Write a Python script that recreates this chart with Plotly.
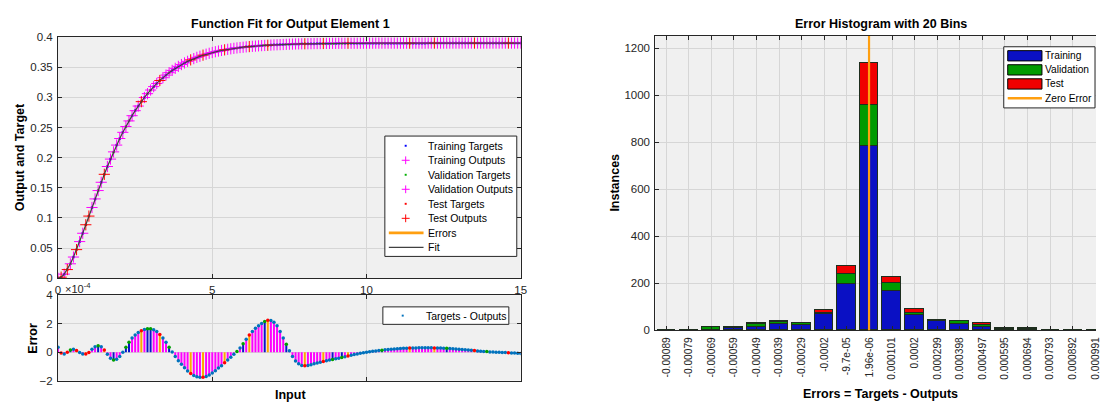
import plotly.graph_objects as go

W, H = 1102, 408
FONT = "Liberation Sans, Arial, sans-serif"
TICK = "#262626"
GRID = "#D6D6D6"
BG = "#F0F0F0"

# ---------------- data: function fit (input in units of 1e-4) ----------------
inputs = [
    0.0, 0.1, 0.2, 0.3, 0.4, 0.5, 0.6, 0.7, 0.8, 0.9,
    1.0, 1.1, 1.2, 1.3, 1.4, 1.5, 1.6, 1.7, 1.8, 1.9,
    2.0, 2.1, 2.2, 2.3, 2.4, 2.5, 2.6, 2.7, 2.8, 2.9,
    3.0, 3.1, 3.2, 3.3, 3.4, 3.5, 3.6, 3.7, 3.8, 3.9,
    4.0, 4.1, 4.2, 4.3, 4.4, 4.5, 4.6, 4.7, 4.8, 4.9,
    5.0, 5.1, 5.2, 5.3, 5.4, 5.5, 5.6, 5.7, 5.8, 5.9,
    6.0, 6.1, 6.2, 6.3, 6.4, 6.5, 6.6, 6.7, 6.8, 6.9,
    7.0, 7.1, 7.2, 7.3, 7.4, 7.5, 7.6, 7.7, 7.8, 7.9,
    8.0, 8.1, 8.2, 8.3, 8.4, 8.5, 8.6, 8.7, 8.8, 8.9,
    9.0, 9.1, 9.2, 9.3, 9.4, 9.5, 9.6, 9.7, 9.8, 9.9,
    10.0, 10.1, 10.2, 10.3, 10.4, 10.5, 10.6, 10.7, 10.8, 10.9,
    11.0, 11.1, 11.2, 11.3, 11.4, 11.5, 11.6, 11.7, 11.8, 11.9,
    12.0, 12.1, 12.2, 12.3, 12.4, 12.5, 12.6, 12.7, 12.8, 12.9,
    13.0, 13.1, 13.2, 13.3, 13.4, 13.5, 13.6, 13.7, 13.8, 13.9,
    14.0, 14.1, 14.2, 14.3, 14.4, 14.5, 14.6, 14.7, 14.8, 14.9,
    15.0,
]
targets = [
    0.0000, 0.0018, 0.0068, 0.0144, 0.0240, 0.0352, 0.0475, 0.0608, 0.0746, 0.0887,
    0.1031, 0.1174, 0.1316, 0.1455, 0.1592, 0.1724, 0.1853, 0.1976, 0.2095, 0.2208,
    0.2317, 0.2420, 0.2517, 0.2610, 0.2697, 0.2780, 0.2857, 0.2930, 0.2999, 0.3063,
    0.3123, 0.3180, 0.3232, 0.3281, 0.3327, 0.3370, 0.3410, 0.3447, 0.3481, 0.3513,
    0.3543, 0.3570, 0.3596, 0.3620, 0.3641, 0.3662, 0.3680, 0.3698, 0.3714, 0.3729,
    0.3742, 0.3755, 0.3767, 0.3777, 0.3787, 0.3796, 0.3805, 0.3813, 0.3820, 0.3826,
    0.3832, 0.3838, 0.3843, 0.3848, 0.3852, 0.3856, 0.3860, 0.3863, 0.3866, 0.3869,
    0.3872, 0.3874, 0.3876, 0.3878, 0.3880, 0.3882, 0.3883, 0.3885, 0.3886, 0.3887,
    0.3888, 0.3889, 0.3890, 0.3891, 0.3892, 0.3892, 0.3893, 0.3894, 0.3894, 0.3895,
    0.3895, 0.3896, 0.3896, 0.3896, 0.3897, 0.3897, 0.3897, 0.3897, 0.3898, 0.3898,
    0.3898, 0.3898, 0.3898, 0.3899, 0.3899, 0.3899, 0.3899, 0.3899, 0.3899, 0.3899,
    0.3899, 0.3899, 0.3899, 0.3899, 0.3899, 0.3899, 0.3899, 0.3899, 0.3899, 0.3899,
    0.3900, 0.3900, 0.3900, 0.3900, 0.3900, 0.3900, 0.3900, 0.3900, 0.3900, 0.3900,
    0.3900, 0.3900, 0.3900, 0.3900, 0.3900, 0.3900, 0.3900, 0.3900, 0.3900, 0.3900,
    0.3900, 0.3900, 0.3900, 0.3900, 0.3900, 0.3900, 0.3900, 0.3900, 0.3900, 0.3900,
    0.3900,
]
# errors (targets - outputs), in units of 1e-4
errors_e4 = [
    0.35, -0.05, -0.12, 0.00, 0.15, 0.20, 0.12, -0.02, -0.12, -0.13,
    -0.02, 0.20, 0.38, 0.45, 0.38, 0.15, -0.15, -0.42, -0.55, -0.50,
    -0.30, 0.00, 0.35, 0.70, 1.00, 1.20, 1.38, 1.50, 1.60, 1.65,
    1.64, 1.57, 1.45, 1.25, 1.00, 0.70, 0.35, 0.02, -0.30, -0.60,
    -0.85, -1.10, -1.32, -1.50, -1.63, -1.72, -1.76, -1.76, -1.70, -1.60,
    -1.47, -1.30, -1.12, -0.95, -0.75, -0.55, -0.35, -0.15, 0.05, 0.30,
    0.60, 0.90, 1.20, 1.45, 1.68, 1.85, 2.02, 2.15, 2.25, 2.22,
    2.10, 1.85, 1.45, 1.00, 0.55, 0.10, -0.30, -0.62, -0.82, -0.93,
    -0.95, -0.93, -0.88, -0.82, -0.76, -0.70, -0.65, -0.60, -0.55, -0.51,
    -0.47, -0.42, -0.37, -0.32, -0.27, -0.22, -0.17, -0.12, -0.08, -0.04,
    0.00, 0.03, 0.06, 0.09, 0.12, 0.14, 0.17, 0.19, 0.21, 0.23,
    0.24, 0.26, 0.27, 0.28, 0.29, 0.30, 0.30, 0.31, 0.31, 0.31,
    0.31, 0.31, 0.30, 0.30, 0.29, 0.28, 0.27, 0.26, 0.24, 0.23,
    0.21, 0.19, 0.17, 0.15, 0.13, 0.11, 0.09, 0.07, 0.05, 0.04,
    0.02, 0.01, 0.00, -0.01, -0.02, -0.03, -0.04, -0.05, -0.06, -0.08,
    -0.10,
]
# data division per sample: T = training, V = validation, S = test
subset = ("TSTSVTSTTS" "STTVTSTTVT" "TTVVTTTSTV" "VTTSTTVTTT" "TTTSTTTSTT"
          "TTTTSTTTVT" "VTSTTTTVST" "TTTTVTTTTT" "STTTTTSTTV" "TTVTSTTTTT"
          "TTTTTVTTTT" "TTTTSTTTTT" "TTSTTTVTTT" "TTTTTSTTTV" "TTTTTTSTTT" "T")

# ---------------- data: error histogram ----------------
hist_centers = [-8.88275e-4, -7.8936e-4, -6.90445e-4, -5.9153e-4, -4.92615e-4,
                -3.937e-4, -2.94785e-4, -1.9587e-4, -9.6955e-5, 1.96e-6,
                1.00875e-4, 1.9979e-4, 2.98705e-4, 3.9762e-4, 4.96535e-4,
                5.9545e-4, 6.94365e-4, 7.9328e-4, 8.92195e-4, 9.9111e-4]
hist_labels = ["-0.00089", "-0.00079", "-0.00069", "-0.00059", "-0.00049",
               "-0.00039", "-0.00029", "-0.0002", "-9.7e-05", "1.96e-06",
               "0.000101", "0.0002", "0.000299", "0.000398", "0.000497",
               "0.000595", "0.000694", "0.000793", "0.000892", "0.000991"]
hist_train = [1, 1, 2, 10, 15, 24, 20, 68, 198, 783, 165, 65, 40, 24, 15, 3, 2, 1, 0, 0]
hist_val = [0, 0, 12, 3, 10, 12, 9, 4, 40, 175, 35, 8, 5, 14, 6, 7, 3, 1, 1, 1]
hist_test = [0, 0, 0, 0, 7, 1, 0, 13, 33, 180, 26, 16, 0, 2, 8, 1, 3, 0, 0, 0]

# ---------------- helpers (pixel -> paper) ----------------
def fx(p):
    return p / W


def fy(p):
    return 1 - p / H


shapes = []
annotations = []


def rect(x0, y0, x1, y1, fill, line="#262626", lw=1):
    shapes.append(dict(type="rect", xref="paper", yref="paper",
                       x0=fx(x0), x1=fx(x1), y0=fy(y1), y1=fy(y0),
                       fillcolor=fill, line=dict(color=line, width=lw), layer="above"))


def seg(x0, y0, x1, y1, color, lw=1):
    shapes.append(dict(type="line", xref="paper", yref="paper",
                       x0=fx(x0), x1=fx(x1), y0=fy(y0), y1=fy(y1),
                       line=dict(color=color, width=lw), layer="above"))


def text(x, y, s, size=10.5, anchor="left", bold=False, angle=0, color="#000000"):
    annotations.append(dict(xref="paper", yref="paper", x=fx(x), y=fy(y),
                            text=f"<b>{s}</b>" if bold else s, showarrow=False,
                            xanchor=anchor, yanchor="middle", textangle=angle,
                            font=dict(family=FONT, size=size, color=color)))


outputs = [t - e * 1e-4 for t, e in zip(targets, errors_e4)]

fig = go.Figure()

groups = [
    # key, target dot, output plus, error stem, error dot
    ("T", "#0000FF", "#FF00FF", "#FF00FF", "#0072BD"),
    ("V", "#00B000", "#FF00FF", "#0A14C8", "#00A000"),
    ("S", "#FF0000", "#FF0000", "#FFA500", "#FF0000"),
]

# ---- top: targets and outputs ----
for key, tcol, ocol, scol, dcol in groups:
    xs = [x for x, s in zip(inputs, subset) if s == key]
    ts = [t for t, s in zip(targets, subset) if s == key]
    fig.add_trace(go.Scatter(x=xs, y=ts, mode="markers", xaxis="x", yaxis="y",
                             marker=dict(color=tcol, size=3), showlegend=False, hoverinfo="skip"))
for key, tcol, ocol, scol, dcol in groups:
    xs = [x for x, s in zip(inputs, subset) if s == key]
    os_ = [o for o, s in zip(outputs, subset) if s == key]
    fig.add_trace(go.Scatter(x=xs, y=os_, mode="markers", xaxis="x", yaxis="y",
                             marker=dict(symbol="cross-thin", size=8, color=ocol,
                                         line=dict(color=ocol, width=1)),
                             showlegend=False, hoverinfo="skip"))
fig.add_trace(go.Scatter(x=inputs, y=targets, mode="lines", xaxis="x", yaxis="y",
                         line=dict(color="#404040", width=1.2), showlegend=False, hoverinfo="skip"))

# ---- bottom: error stems and dots ----
for key, tcol, ocol, scol, dcol in groups:
    sx, sy = [], []
    for x, e, s in zip(inputs, errors_e4, subset):
        if s == key:
            sx += [x, x, None]
            sy += [0, e, None]
    fig.add_trace(go.Scatter(x=sx, y=sy, mode="lines", xaxis="x2", yaxis="y2",
                             line=dict(color=scol, width=2), showlegend=False, hoverinfo="skip"))
for key, tcol, ocol, scol, dcol in groups:
    xs = [x for x, s in zip(inputs, subset) if s == key]
    es = [e for e, s in zip(errors_e4, subset) if s == key]
    fig.add_trace(go.Scatter(x=xs, y=es, mode="markers", xaxis="x2", yaxis="y2",
                             marker=dict(color=dcol, size=3.5), showlegend=False, hoverinfo="skip"))

# ---- right: error histogram ----
bw = 0.82 * (hist_centers[1] - hist_centers[0])
BLUE, GREEN, RED, ORANGE = "#0A10C4", "#009A00", "#F00000", "#FF9F10"
for vals, col in [(hist_train, BLUE), (hist_val, GREEN), (hist_test, RED)]:
    fig.add_trace(go.Bar(x=hist_centers, y=vals, width=bw, xaxis="x3", yaxis="y3",
                         marker=dict(color=col, line=dict(color="#1E2E1E", width=1)),
                         showlegend=False, hoverinfo="skip"))

shapes.append(dict(type="line", xref="x3", yref="y3 domain", x0=0, x1=0, y0=0, y1=1,
                   line=dict(color=ORANGE, width=2.2), layer="above"))

# ---------------- axes ----------------
tickfont = dict(family=FONT, size=11.5, color=TICK)
common = dict(showline=True, linecolor=TICK, linewidth=1, mirror="ticks", ticks="inside",
              ticklen=4, tickcolor=TICK, showgrid=True, gridcolor=GRID, gridwidth=1,
              zeroline=False, tickfont=tickfont)

L0, L1 = 55.5, 522
layout_axes = dict(
    xaxis=dict(domain=[fx(L0), fx(L1)], range=[0, 15], anchor="y", tickvals=[0, 5, 10, 15],
               ticklabelstandoff=1, **common),
    yaxis=dict(domain=[fy(280.5), fy(32)], range=[0, 0.4], anchor="x", dtick=0.05,
               ticklabelstandoff=2, **common),
    xaxis2=dict(domain=[fx(L0), fx(L1)], range=[0, 15], anchor="y2", tickvals=[0, 5, 10, 15],
                showticklabels=False, **common),
    yaxis2=dict(domain=[fy(386), fy(298)], range=[-2, 4], anchor="x2", dtick=2,
                ticklabelstandoff=2, **common),
    xaxis3=dict(domain=[fx(657.7), 1.0], range=[-9.36e-4, 9.94e-4], anchor="y3",
                tickvals=hist_centers, ticktext=hist_labels, tickangle=-90,
                ticklabelstandoff=2,
                **{**common, "tickfont": dict(family=FONT, size=10.2, color=TICK)}),
    yaxis3=dict(domain=[fy(334), fy(31)], range=[0, 1252], anchor="x3", dtick=200,
                ticklabelstandoff=2, **{**common, "mirror": False}),
)

# ---------------- titles & labels ----------------
text(290, 19, "Function Fit for Output Element 1", size=12.5, anchor="center", bold=True)
text(885, 19, "Error Histogram with 20 Bins", size=12.5, anchor="center", bold=True)
text(18, 156, "Output and Target", size=12.5, anchor="center", bold=True, angle=-90)
text(30, 342, "Error", size=12.5, anchor="center", bold=True, angle=-90)
text(290, 401, "Input", size=12.5, anchor="center", bold=True)
text(617, 182, "Instances", size=12.5, anchor="center", bold=True, angle=-90)
text(885, 400, "Errors = Targets - Outputs", size=12.5, anchor="center", bold=True)
text(60, 291, "×10<sup>-4</sup>", size=11, anchor="left", color=TICK)

# ---------------- legend: top-left ----------------
rect(385, 134, 518, 258, "#FFFFFF")
leg_top = [("Training Targets", "dot", "#0000FF"), ("Training Outputs", "plus", "#FF00FF"),
           ("Validation Targets", "dot", "#00B000"), ("Validation Outputs", "plus", "#FF00FF"),
           ("Test Targets", "dot", "#FF0000"), ("Test Outputs", "plus", "#FF0000"),
           ("Errors", "line", ORANGE), ("Fit", "line", "#404040")]
for i, (lab, kind, col) in enumerate(leg_top):
    yc = 144 + 14.95 * i
    if kind == "dot":
        rect(405, yc - 1, 407, yc + 1, col, line=col, lw=0)
    elif kind == "plus":
        seg(402, yc, 410, yc, col, 1)
        seg(406, yc - 4, 406, yc + 4, col, 1)
    else:
        seg(389, yc, 424, yc, col, 2.6 if lab == "Errors" else 1.2)
    text(426, yc, lab, size=10.5)

# ---------------- legend: bottom-left ----------------
rect(383, 310, 510, 328, "#FFFFFF")
rect(402, 318, 404, 320, "#0072BD", line="#0072BD", lw=0)
text(424, 319, "Targets - Outputs", size=10.5)

# ---------------- legend: histogram ----------------
rect(1009, 42, 1101, 105, "#FFFFFF")
for lab, col, yc in [("Training", BLUE, 51.3), ("Validation", GREEN, 65.8), ("Test", RED, 80.3)]:
    rect(1013, yc - 5.3, 1047.5, yc + 5.3, col, line="#000000", lw=1)
    text(1049, yc, lab, size=10.2)
seg(1013, 95, 1047.5, 95, ORANGE, 2.4)
text(1049, 95, "Zero Error", size=10.2)

fig.update_layout(
    width=W, height=H, autosize=False,
    margin=dict(l=0, r=0, t=0, b=0, pad=0),
    paper_bgcolor="#FFFFFF", plot_bgcolor=BG,
    barmode="stack", bargap=0,
    font=dict(family=FONT, size=11, color=TICK),
    showlegend=False,
    shapes=shapes, annotations=annotations,
    **layout_axes,
)

fig.write_html("out.html", config=dict(displayModeBar=False))
